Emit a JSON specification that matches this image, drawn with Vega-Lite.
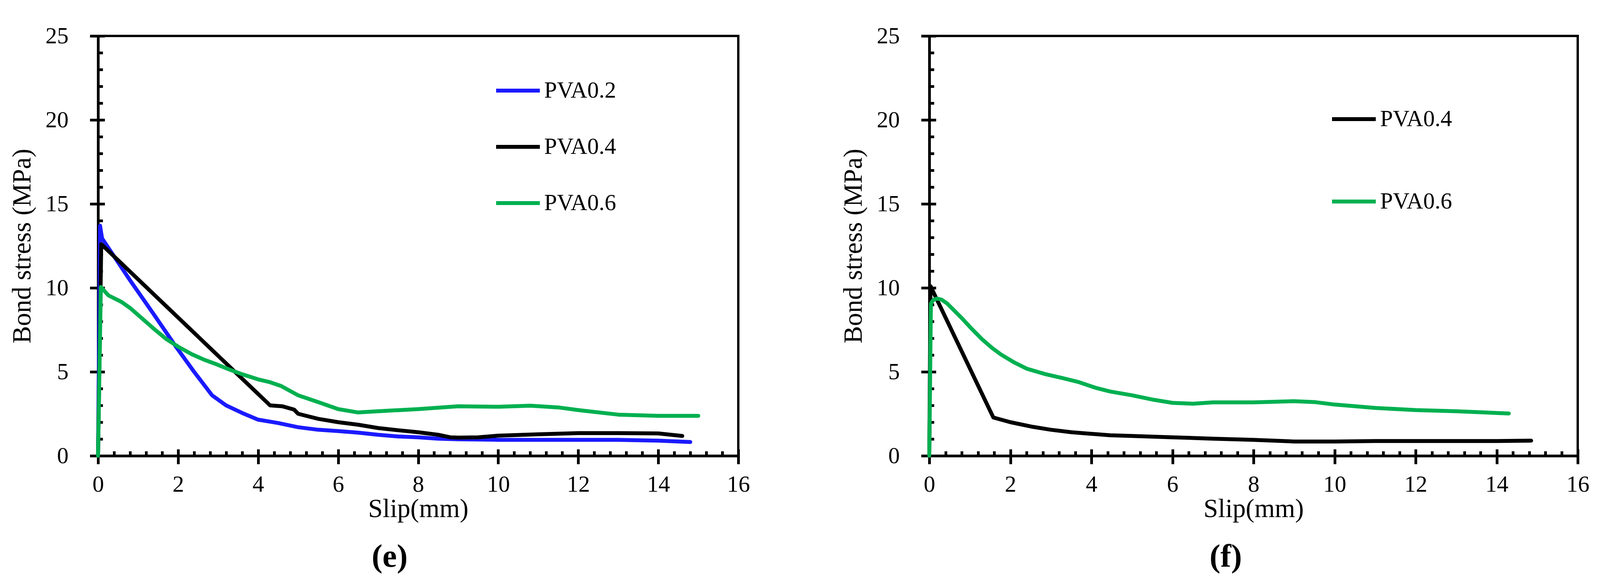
{
  "$schema": "https://vega.github.io/schema/vega-lite/v6.json",
  "background": "white",
  "padding": {"left": 20, "top": 60, "right": 10, "bottom": 5},
  "datasets": {
    "e": [
      {"series": "PVA0.2", "slip": 0, "stress": 0},
      {"series": "PVA0.2", "slip": 0.05, "stress": 13.7},
      {"series": "PVA0.2", "slip": 0.1, "stress": 12.95},
      {"series": "PVA0.2", "slip": 0.8, "stress": 10.45},
      {"series": "PVA0.2", "slip": 1.4, "stress": 8.4},
      {"series": "PVA0.2", "slip": 1.96, "stress": 6.45},
      {"series": "PVA0.2", "slip": 2.4, "stress": 5.0},
      {"series": "PVA0.2", "slip": 2.85, "stress": 3.6},
      {"series": "PVA0.2", "slip": 3.2, "stress": 3.0},
      {"series": "PVA0.2", "slip": 3.6, "stress": 2.55},
      {"series": "PVA0.2", "slip": 4.0, "stress": 2.15},
      {"series": "PVA0.2", "slip": 4.5, "stress": 1.95},
      {"series": "PVA0.2", "slip": 5.0, "stress": 1.7},
      {"series": "PVA0.2", "slip": 5.5, "stress": 1.55},
      {"series": "PVA0.2", "slip": 6.0, "stress": 1.47},
      {"series": "PVA0.2", "slip": 6.5, "stress": 1.38},
      {"series": "PVA0.2", "slip": 7.0, "stress": 1.25},
      {"series": "PVA0.2", "slip": 7.5, "stress": 1.15},
      {"series": "PVA0.2", "slip": 8.0, "stress": 1.1},
      {"series": "PVA0.2", "slip": 8.5, "stress": 1.02},
      {"series": "PVA0.2", "slip": 9.0, "stress": 0.98},
      {"series": "PVA0.2", "slip": 10.0, "stress": 0.95},
      {"series": "PVA0.2", "slip": 11.0, "stress": 0.95},
      {"series": "PVA0.2", "slip": 12.0, "stress": 0.95},
      {"series": "PVA0.2", "slip": 13.0, "stress": 0.95},
      {"series": "PVA0.2", "slip": 14.0, "stress": 0.9},
      {"series": "PVA0.2", "slip": 14.8, "stress": 0.82},
      {"series": "PVA0.4", "slip": 0, "stress": 0},
      {"series": "PVA0.4", "slip": 0.08, "stress": 12.6},
      {"series": "PVA0.4", "slip": 4.3, "stress": 3.0},
      {"series": "PVA0.4", "slip": 4.6, "stress": 2.95},
      {"series": "PVA0.4", "slip": 4.9, "stress": 2.75},
      {"series": "PVA0.4", "slip": 5.0, "stress": 2.5},
      {"series": "PVA0.4", "slip": 5.5, "stress": 2.2},
      {"series": "PVA0.4", "slip": 6.0, "stress": 2.0},
      {"series": "PVA0.4", "slip": 6.5, "stress": 1.85},
      {"series": "PVA0.4", "slip": 7.0, "stress": 1.65},
      {"series": "PVA0.4", "slip": 7.5, "stress": 1.52},
      {"series": "PVA0.4", "slip": 8.0, "stress": 1.4},
      {"series": "PVA0.4", "slip": 8.5, "stress": 1.25},
      {"series": "PVA0.4", "slip": 8.8, "stress": 1.1},
      {"series": "PVA0.4", "slip": 9.0, "stress": 1.08},
      {"series": "PVA0.4", "slip": 9.5, "stress": 1.1},
      {"series": "PVA0.4", "slip": 10.0, "stress": 1.2},
      {"series": "PVA0.4", "slip": 11.0, "stress": 1.28},
      {"series": "PVA0.4", "slip": 12.0, "stress": 1.35},
      {"series": "PVA0.4", "slip": 13.0, "stress": 1.35},
      {"series": "PVA0.4", "slip": 14.0, "stress": 1.33},
      {"series": "PVA0.4", "slip": 14.6, "stress": 1.18},
      {"series": "PVA0.6", "slip": 0, "stress": 0},
      {"series": "PVA0.6", "slip": 0.07, "stress": 10.05},
      {"series": "PVA0.6", "slip": 0.26, "stress": 9.55},
      {"series": "PVA0.6", "slip": 0.58, "stress": 9.17},
      {"series": "PVA0.6", "slip": 0.8, "stress": 8.8},
      {"series": "PVA0.6", "slip": 1.06, "stress": 8.26},
      {"series": "PVA0.6", "slip": 1.4, "stress": 7.55},
      {"series": "PVA0.6", "slip": 1.7, "stress": 6.96},
      {"series": "PVA0.6", "slip": 2.0, "stress": 6.5},
      {"series": "PVA0.6", "slip": 2.34, "stress": 6.05},
      {"series": "PVA0.6", "slip": 2.65, "stress": 5.72},
      {"series": "PVA0.6", "slip": 2.98, "stress": 5.43},
      {"series": "PVA0.6", "slip": 3.3, "stress": 5.12},
      {"series": "PVA0.6", "slip": 3.62, "stress": 4.84},
      {"series": "PVA0.6", "slip": 4.0, "stress": 4.55},
      {"series": "PVA0.6", "slip": 4.3, "stress": 4.38},
      {"series": "PVA0.6", "slip": 4.58, "stress": 4.15},
      {"series": "PVA0.6", "slip": 5.0, "stress": 3.6},
      {"series": "PVA0.6", "slip": 5.5, "stress": 3.2},
      {"series": "PVA0.6", "slip": 6.0, "stress": 2.78},
      {"series": "PVA0.6", "slip": 6.5, "stress": 2.58},
      {"series": "PVA0.6", "slip": 7.0, "stress": 2.65},
      {"series": "PVA0.6", "slip": 8.0, "stress": 2.78},
      {"series": "PVA0.6", "slip": 9.0, "stress": 2.95},
      {"series": "PVA0.6", "slip": 10.0, "stress": 2.92},
      {"series": "PVA0.6", "slip": 10.8, "stress": 2.98},
      {"series": "PVA0.6", "slip": 11.5, "stress": 2.88},
      {"series": "PVA0.6", "slip": 12.0, "stress": 2.72},
      {"series": "PVA0.6", "slip": 13.0, "stress": 2.45},
      {"series": "PVA0.6", "slip": 14.0, "stress": 2.38},
      {"series": "PVA0.6", "slip": 15.0, "stress": 2.38}
    ],
    "f": [
      {"series": "PVA0.4", "slip": 0, "stress": 0},
      {"series": "PVA0.4", "slip": 0.03, "stress": 10.1},
      {"series": "PVA0.4", "slip": 1.58, "stress": 2.28},
      {"series": "PVA0.4", "slip": 2.0, "stress": 2.0},
      {"series": "PVA0.4", "slip": 2.56, "stress": 1.72},
      {"series": "PVA0.4", "slip": 3.0, "stress": 1.55},
      {"series": "PVA0.4", "slip": 3.51, "stress": 1.4},
      {"series": "PVA0.4", "slip": 4.46, "stress": 1.22},
      {"series": "PVA0.4", "slip": 5.0, "stress": 1.18},
      {"series": "PVA0.4", "slip": 6.0, "stress": 1.1},
      {"series": "PVA0.4", "slip": 7.0, "stress": 1.02},
      {"series": "PVA0.4", "slip": 8.0, "stress": 0.95},
      {"series": "PVA0.4", "slip": 9.0, "stress": 0.85},
      {"series": "PVA0.4", "slip": 10.0, "stress": 0.85},
      {"series": "PVA0.4", "slip": 11.0, "stress": 0.88},
      {"series": "PVA0.4", "slip": 12.0, "stress": 0.88},
      {"series": "PVA0.4", "slip": 13.0, "stress": 0.88},
      {"series": "PVA0.4", "slip": 14.0, "stress": 0.88},
      {"series": "PVA0.4", "slip": 14.85, "stress": 0.9},
      {"series": "PVA0.6", "slip": 0, "stress": 0},
      {"series": "PVA0.6", "slip": 0.04, "stress": 9.07},
      {"series": "PVA0.6", "slip": 0.1, "stress": 9.28},
      {"series": "PVA0.6", "slip": 0.19, "stress": 9.36},
      {"series": "PVA0.6", "slip": 0.3, "stress": 9.3},
      {"series": "PVA0.6", "slip": 0.44, "stress": 9.07},
      {"series": "PVA0.6", "slip": 0.82, "stress": 8.15},
      {"series": "PVA0.6", "slip": 1.05, "stress": 7.55},
      {"series": "PVA0.6", "slip": 1.3, "stress": 6.94},
      {"series": "PVA0.6", "slip": 1.55, "stress": 6.42},
      {"series": "PVA0.6", "slip": 1.77, "stress": 6.03},
      {"series": "PVA0.6", "slip": 2.1, "stress": 5.55},
      {"series": "PVA0.6", "slip": 2.4, "stress": 5.19},
      {"series": "PVA0.6", "slip": 2.88, "stress": 4.85},
      {"series": "PVA0.6", "slip": 3.3, "stress": 4.62},
      {"series": "PVA0.6", "slip": 3.67, "stress": 4.4},
      {"series": "PVA0.6", "slip": 4.1, "stress": 4.05},
      {"series": "PVA0.6", "slip": 4.46, "stress": 3.83},
      {"series": "PVA0.6", "slip": 5.0, "stress": 3.6},
      {"series": "PVA0.6", "slip": 5.5, "stress": 3.35},
      {"series": "PVA0.6", "slip": 6.0, "stress": 3.15},
      {"series": "PVA0.6", "slip": 6.5, "stress": 3.1},
      {"series": "PVA0.6", "slip": 7.0, "stress": 3.18},
      {"series": "PVA0.6", "slip": 8.0, "stress": 3.18},
      {"series": "PVA0.6", "slip": 9.0, "stress": 3.25},
      {"series": "PVA0.6", "slip": 9.5, "stress": 3.2},
      {"series": "PVA0.6", "slip": 10.0, "stress": 3.05},
      {"series": "PVA0.6", "slip": 11.0, "stress": 2.85},
      {"series": "PVA0.6", "slip": 12.0, "stress": 2.72},
      {"series": "PVA0.6", "slip": 13.0, "stress": 2.65},
      {"series": "PVA0.6", "slip": 14.3, "stress": 2.52}
    ]
  },
  "hconcat": [
    {
      "width": 1639,
      "height": 1075,
      "title": {"text": "(e)", "orient": "bottom", "frame": "group", "anchor": "middle", "dx": -73, "offset": 49, "fontSize": 83, "fontWeight": "bold", "font": "Liberation Serif", "color": "black"},
      "layer": [
        {
          "data": {"name": "e"},
          "mark": {"type": "line", "strokeWidth": 10, "strokeJoin": "round", "strokeCap": "round"},
          "encoding": {
            "x": {"field": "slip", "type": "quantitative", "scale": {"domain": [0, 16], "nice": false},
                  "axis": {"values": [0, 2, 4, 6, 8, 10, 12, 14, 16], "tickSize": 21, "labelPadding": 23, "title": "Slip(mm)", "titlePadding": 0}},
            "y": {"field": "stress", "type": "quantitative", "scale": {"domain": [0, 25], "nice": false},
                  "axis": {"values": [0, 5, 10, 15, 20, 25], "tickSize": 21, "labelPadding": 55, "title": "Bond stress (MPa)", "titlePadding": 25}},
            "color": {"field": "series", "type": "nominal",
                      "scale": {"domain": ["PVA0.2", "PVA0.4", "PVA0.6"], "range": ["#1a1aff", "#000000", "#00b050"]},
                      "legend": {"orient": "none", "legendX": 1014, "legendY": 79, "rowPadding": 53}}
          }
        },
        {
          "data": {"name": "e"},
          "mark": {"type": "line", "strokeOpacity": 0},
          "encoding": {
            "x": {"field": "slip", "type": "quantitative", "scale": {"domain": [0, 16], "nice": false},
                  "axis": {"orient": "bottom", "values": [0, 0.4, 0.8, 1.2, 1.6, 2, 2.4, 2.8, 3.2, 3.6, 4, 4.4, 4.8, 5.2, 5.6, 6, 6.4, 6.8, 7.2, 7.6, 8, 8.4, 8.8, 9.2, 9.6, 10, 10.4, 10.8, 11.2, 11.6, 12, 12.4, 12.8, 13.2, 13.6, 14, 14.4, 14.8, 15.2, 15.6, 16],
                           "tickSize": {"condition": {"test": "abs(datum.value / 2 - round(datum.value / 2)) < 0.01", "value": -17}, "value": -12},
                           "labels": false, "domain": false, "title": null}},
            "y": {"field": "stress", "type": "quantitative", "scale": {"domain": [0, 25], "nice": false},
                  "axis": {"orient": "left", "values": [0, 1, 2, 3, 4, 5, 6, 7, 8, 9, 10, 11, 12, 13, 14, 15, 16, 17, 18, 19, 20, 21, 22, 23, 24, 25],
                           "tickSize": {"condition": {"test": "datum.value % 5 === 0", "value": -17}, "value": -12},
                           "labels": false, "domain": false, "title": null}}
          }
        }
      ],
      "resolve": {"axis": {"x": "independent", "y": "independent"}}
    },
    {
      "width": 1660,
      "height": 1075,
      "title": {"text": "(f)", "orient": "bottom", "frame": "group", "anchor": "middle", "dx": -71, "offset": 49, "fontSize": 83, "fontWeight": "bold", "font": "Liberation Serif", "color": "black"},
      "layer": [
        {
          "data": {"name": "f"},
          "mark": {"type": "line", "strokeWidth": 10, "strokeJoin": "round", "strokeCap": "round"},
          "encoding": {
            "x": {"field": "slip", "type": "quantitative", "scale": {"domain": [0, 16], "nice": false},
                  "axis": {"values": [0, 2, 4, 6, 8, 10, 12, 14, 16], "tickSize": 21, "labelPadding": 23, "title": "Slip(mm)", "titlePadding": 0}},
            "y": {"field": "stress", "type": "quantitative", "scale": {"domain": [0, 25], "nice": false},
                  "axis": {"values": [0, 5, 10, 15, 20, 25], "tickSize": 21, "labelPadding": 55, "title": "Bond stress (MPa)", "titlePadding": 25}},
            "color": {"field": "series", "type": "nominal",
                      "scale": {"domain": ["PVA0.4", "PVA0.6"], "range": ["#000000", "#00b050"]},
                      "legend": {"orient": "none", "legendX": 1026, "legendY": 152, "rowPadding": 120}}
          }
        },
        {
          "data": {"name": "f"},
          "mark": {"type": "line", "strokeOpacity": 0},
          "encoding": {
            "x": {"field": "slip", "type": "quantitative", "scale": {"domain": [0, 16], "nice": false},
                  "axis": {"orient": "bottom", "values": [0, 0.4, 0.8, 1.2, 1.6, 2, 2.4, 2.8, 3.2, 3.6, 4, 4.4, 4.8, 5.2, 5.6, 6, 6.4, 6.8, 7.2, 7.6, 8, 8.4, 8.8, 9.2, 9.6, 10, 10.4, 10.8, 11.2, 11.6, 12, 12.4, 12.8, 13.2, 13.6, 14, 14.4, 14.8, 15.2, 15.6, 16],
                           "tickSize": {"condition": {"test": "abs(datum.value / 2 - round(datum.value / 2)) < 0.01", "value": -17}, "value": -12},
                           "labels": false, "domain": false, "title": null}},
            "y": {"field": "stress", "type": "quantitative", "scale": {"domain": [0, 25], "nice": false},
                  "axis": {"orient": "left", "values": [0, 1, 2, 3, 4, 5, 6, 7, 8, 9, 10, 11, 12, 13, 14, 15, 16, 17, 18, 19, 20, 21, 22, 23, 24, 25],
                           "tickSize": {"condition": {"test": "datum.value % 5 === 0", "value": -17}, "value": -12},
                           "labels": false, "domain": false, "title": null}}
          }
        }
      ],
      "resolve": {"axis": {"x": "independent", "y": "independent"}}
    }
  ],
  "spacing": 225,
  "resolve": {"scale": {"color": "independent"}, "legend": {"color": "independent"}},
  "config": {
    "font": "Liberation Serif",
    "view": {"stroke": "black", "strokeWidth": 6},
    "axis": {
      "grid": false,
      "domainColor": "black",
      "domainWidth": 7,
      "tickColor": "black",
      "tickWidth": 7,
      "labelFont": "Liberation Serif",
      "labelFontSize": 59,
      "labelColor": "black",
      "labelFlush": false,
      "labelOverlap": false,
      "titleFont": "Liberation Serif",
      "titleFontSize": 67,
      "titleFontWeight": "normal",
      "titleColor": "black"
    },
    "legend": {
      "title": null,
      "direction": "vertical",
      "padding": 0,
      "symbolType": "stroke",
      "symbolStrokeWidth": 10,
      "symbolSize": 12540,
      "labelFont": "Liberation Serif",
      "labelFontSize": 59,
      "labelColor": "black",
      "labelOffset": 6,
      "labelLimit": 0
    }
  }
}
